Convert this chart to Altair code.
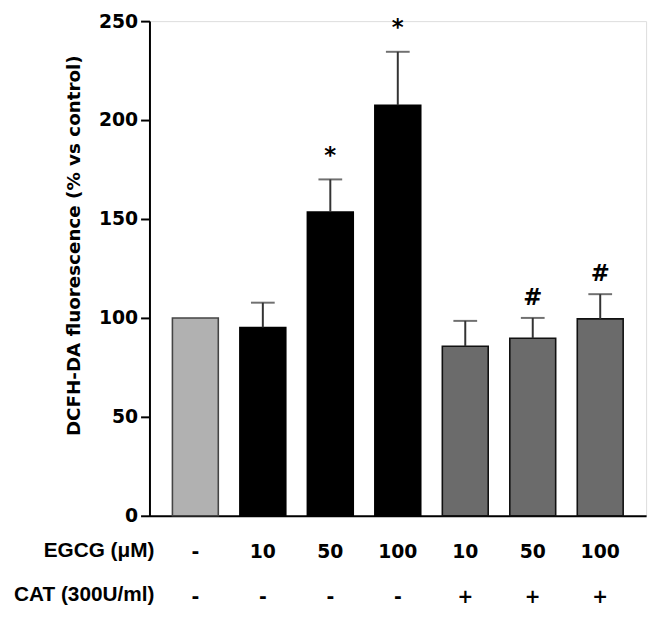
import altair as alt
import pandas as pd

groups = ["C", "E10", "E50", "E100", "EC10", "EC50", "EC100"]
egcg_labels = ["-", "10", "50", "100", "10", "50", "100"]
cat_labels = ["-", "-", "-", "-", "+", "+", "+"]
means = [100, 95.2, 153.5, 207.5, 85.7, 89.7, 99.5]
errors = [0, 12.5, 16.5, 27.0, 12.8, 10.3, 12.5]
stars = ["", "", "*", "*", "", "", ""]
hashes = ["", "", "", "", "", "#", "#"]
treatment = ["control", "EGCG", "EGCG", "EGCG", "EGCG+CAT", "EGCG+CAT", "EGCG+CAT"]
row_titles = ["EGCG (μM)", "CAT (300U/ml)"]
y_title = "DCFH-DA fluorescence (% vs control)"
y_ticks = [0, 50, 100, 150, 200, 250]

df = pd.DataFrame({
    "group": groups,
    "egcg": egcg_labels,
    "cat": cat_labels,
    "mean": means,
    "sem": errors,
    "star": stars,
    "hash": hashes,
    "treatment": treatment,
})
df["top"] = df["mean"] + df["sem"]

FONT = "DejaVu Sans"
FONT2 = "Liberation Sans"
treat_domain = ["control", "EGCG", "EGCG+CAT"]
fill_scale = alt.Scale(domain=treat_domain, range=["#b1b1b1", "#000000", "#6b6b6b"])
stroke_scale = alt.Scale(domain=treat_domain, range=["#444444", "#000000", "#111111"])

x = alt.X(
    "group:N",
    sort=groups,
    scale=alt.Scale(paddingInner=0.32, paddingOuter=0.34),
    axis=alt.Axis(labels=False, ticks=False, title=None, domainWidth=2,
                  domainColor="black", grid=False),
)
y_scale = alt.Scale(domain=[0, 250], nice=False, zero=True)

base = alt.Chart(df)

bars = base.mark_bar(strokeWidth=1.6).encode(
    x=x,
    y=alt.Y(
        "mean:Q",
        scale=y_scale,
        axis=alt.Axis(
            values=y_ticks, title=None, grid=False, domainWidth=2, domainColor="black",
            tickWidth=2, tickColor="black", tickSize=9, labelPadding=3,
            labelFont=FONT, labelFontWeight="bold", labelFontSize=19, labelColor="black",
        ),
    ),
    fill=alt.Fill("treatment:N", scale=fill_scale, legend=None),
    stroke=alt.Stroke("treatment:N", scale=stroke_scale, legend=None),
)

err_base = base.transform_filter("datum.sem > 0")
err = err_base.mark_rule(color="#333333", strokeWidth=2).encode(
    x=x, y=alt.Y("mean:Q", scale=y_scale), y2="top:Q"
)
caps = err_base.mark_tick(color="#333333", thickness=2, size=24).encode(
    x=x, y=alt.Y("top:Q", scale=y_scale)
)

star_text = base.transform_filter("datum.star != ''").mark_text(
    font=FONT, fontWeight="bold", fontSize=23, baseline="alphabetic", dy=-17, color="black"
).encode(x=x, y=alt.Y("top:Q", scale=y_scale), text="star:N")
hash_text = base.transform_filter("datum.hash != ''").mark_text(
    font=FONT, fontWeight="bold", fontSize=23, baseline="alphabetic", dy=-13, color="black"
).encode(x=x, y=alt.Y("top:Q", scale=y_scale), text="hash:N")

row1 = base.mark_text(
    font=FONT, fontWeight="bold", fontSize=19, baseline="middle", color="black"
).encode(x=x, y=alt.value(537), text="egcg:N")
row2 = base.mark_text(
    font=FONT, fontWeight="bold", fontSize=19, baseline="middle", color="black"
).encode(x=x, y=alt.value(582), text="cat:N")

t1 = alt.Chart(pd.DataFrame({"t": [row_titles[0]]})).mark_text(
    font=FONT2, fontWeight="bold", fontSize=21, align="right", baseline="middle", color="black"
).encode(x=alt.value(5), y=alt.value(536), text="t:N")
t2 = alt.Chart(pd.DataFrame({"t": [row_titles[1]]})).mark_text(
    font=FONT2, fontWeight="bold", fontSize=21, align="right", baseline="middle", color="black"
).encode(x=alt.value(5), y=alt.value(580), text="t:N")

ytitle = alt.Chart(pd.DataFrame({"t": [y_title]})).mark_text(
    font=FONT, fontWeight="bold", fontSize=18.5, align="center", baseline="middle",
    angle=270, color="black"
).encode(x=alt.value(-76), y=alt.value(227), text="t:N")

chart = alt.layer(bars, err, caps, star_text, hash_text, row1, row2, t1, t2, ytitle).properties(
    width=502,
    height=500,
    autosize="none",
    padding={"left": 143, "top": 10, "right": 10, "bottom": 95},
).configure_view(stroke=None).configure(background="white")

chart.save("out.html", embed_options={"renderer": "svg", "actions": False})
